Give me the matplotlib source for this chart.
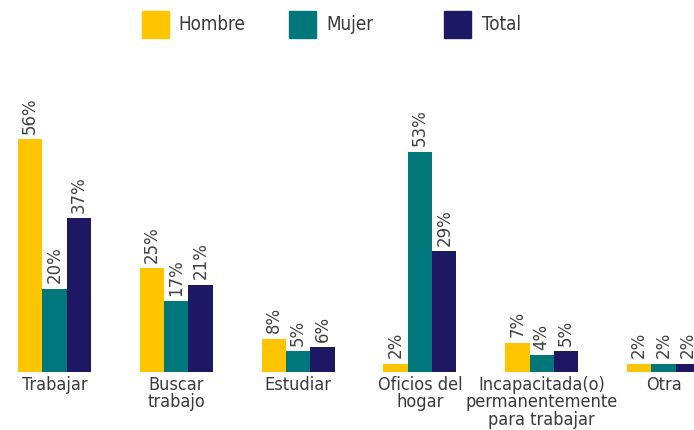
import matplotlib
matplotlib.use('Agg')
import matplotlib.pyplot as plt
from matplotlib.patches import Rectangle
import numpy as np

categories = ['Trabajar', 'Buscar\ntrabajo', 'Estudiar', 'Oficios del\nhogar',
              'Incapacitada(o)\npermanentemente\npara trabajar', 'Otra']
series_names = ['Hombre', 'Mujer', 'Total']
hombre = [56, 25, 8, 2, 7, 2]
mujer = [20, 17, 5, 53, 4, 2]
total = [37, 21, 6, 29, 5, 2]
colors = ['#FFC600', '#00777B', '#1E1763']

plt.rcParams['font.family'] = ['DejaVu Sans']

fig = plt.figure(figsize=(6.94, 4.30), dpi=100)
ax = fig.add_axes([0, 58 / 430, 1, 291 / 430])

x = np.arange(len(categories))
w = 0.2
for i, (vals, c) in enumerate(zip([hombre, mujer, total], colors)):
    pos = x + (i - 1) * w
    ax.bar(pos, vals, width=w, color=c)
    for p, v in zip(pos, vals):
        ax.text(p, v + 1.3, f'{v}%', rotation=90, ha='center', va='bottom',
                fontsize=12, color='#404040')

ax.set_xlim(-0.447, 5.25)
ax.set_ylim(0, 70)
for s in ax.spines.values():
    s.set_visible(False)
ax.set_yticks([])
ax.set_xticks(x)
ax.set_xticklabels(categories, fontsize=13, color='#3a3a3a', linespacing=0.95,
                   fontstretch='condensed', fontweight='light')
ax.tick_params(axis='x', length=0, pad=3)

# legend drawn by hand
legend_pos = [(142, 178), (289, 326), (444, 482)]
for (sx, tx), name, c in zip(legend_pos, series_names, colors):
    fig.patches.append(Rectangle((sx / 694, 1 - 38 / 430), 27 / 694, 27 / 430,
                                 transform=fig.transFigure, color=c))
    fig.text(tx / 694, 1 - 25 / 430, name, fontsize=13.5, color='#3a3a3a', va='center',
             fontstretch='condensed', fontweight='light')

fig.savefig('out.png', dpi=100)
